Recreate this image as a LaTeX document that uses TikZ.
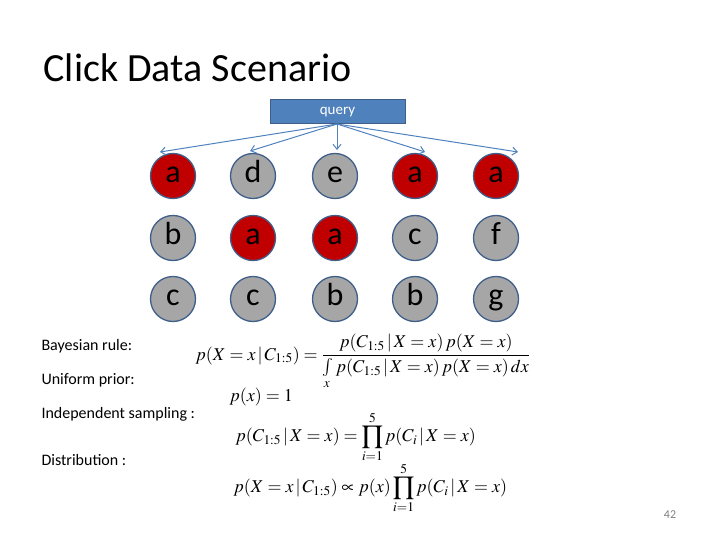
\documentclass[tikz,border=0pt]{standalone}
\usepackage{mathptmx}
\usepackage{fontspec}
\setmainfont{Carlito}
\usetikzlibrary{arrows.meta}
\definecolor{bl}{HTML}{4F81BD}
\definecolor{bd}{HTML}{3F5F8A}
\definecolor{rd}{HTML}{C00000}
\definecolor{gr}{HTML}{A6A6A6}
\tikzset{doc/.style={circle,draw=bd,line width=1.3pt,minimum size=45pt,inner sep=0pt,text height=17pt,text depth=4pt,font=\fontsize{32}{34}\selectfont},
 rel/.style={doc,fill=rd},
 irr/.style={doc,fill=gr},
 arr/.style={draw=bl,line width=1pt,-{Straight Barb[length=5pt,width=8pt]}},
 lab/.style={anchor=west,font=\fontsize{16}{18}\selectfont},
 eq/.style={font=\fontsize{18}{21}\selectfont}}
\begin{document}
\begin{tikzpicture}[x=1pt,y=-1pt]
\useasboundingbox (0,0) rectangle (720,540);
\node[anchor=west,font=\fontsize{40}{44}\selectfont] (title) at (40,68) {Click Data Scenario};
\node[draw=bd,fill=bl,line width=1pt,minimum width=135pt,minimum height=24pt,text=white,font=\fontsize{15}{17}\selectfont] (q) at (337.5,112) {query};
\coordinate (qs) at (337,124);
\node[rel] (a1) at (173,176) {a};
\node[irr] (a2) at (253,176) {d};
\node[irr] (a3) at (335,176) {e};
\node[rel] (a4) at (415,176) {a};
\node[rel] (a5) at (496,176) {a};
\node[irr] (b1) at (173,238) {b};
\node[rel] (b2) at (253,238) {a};
\node[rel] (b3) at (335,238) {a};
\node[irr] (b4) at (415,238) {c};
\node[irr] (b5) at (496,238) {f};
\node[irr] (c1) at (173,299) {c};
\node[irr] (c2) at (253,299) {c};
\node[irr] (c3) at (335,299) {b};
\node[irr] (c4) at (415,299) {b};
\node[irr] (c5) at (496,299) {g};
\coordinate (t1) at (160,152);
\coordinate (t2) at (250,151);
\coordinate (t3) at (337,150);
\coordinate (t4) at (425,152);
\coordinate (t5) at (518,152);
\foreach \i in {1,...,5} \draw[arr] (qs) -- (t\i);
\node[lab] (l1) at (38,346) {Bayesian rule:};
\node[lab] (l2) at (38,380) {Uniform prior:};
\node[lab] (l3) at (38,414) {Independent sampling :};
\node[lab] (l4) at (38,460) {Distribution :};
\node[eq,anchor=west] (e1) at (192,362) {$\displaystyle p(X=x\,|\,C_{1:5})=\frac{p(C_{1:5}\,|\,X=x)\,p(X=x)}{\int\limits_x p(C_{1:5}\,|\,X=x)\,p(X=x)\,dx}$};
\node[eq,anchor=west] (e2) at (226,397) {$p(x)=1$};
\node[eq,anchor=west] (e3) at (232,437) {$\displaystyle p(C_{1:5}\,|\,X=x)=\prod_{i=1}^{5}p(C_i\,|\,X=x)$};
\node[eq,anchor=west] (e4) at (230,488) {$\displaystyle p(X=x\,|\,C_{1:5})\propto p(x)\prod_{i=1}^{5}p(C_i\,|\,X=x)$};
\node[font=\fontsize{12}{14}\selectfont,text=gray] (pg) at (670,515) {42};
\end{tikzpicture}
\end{document}
